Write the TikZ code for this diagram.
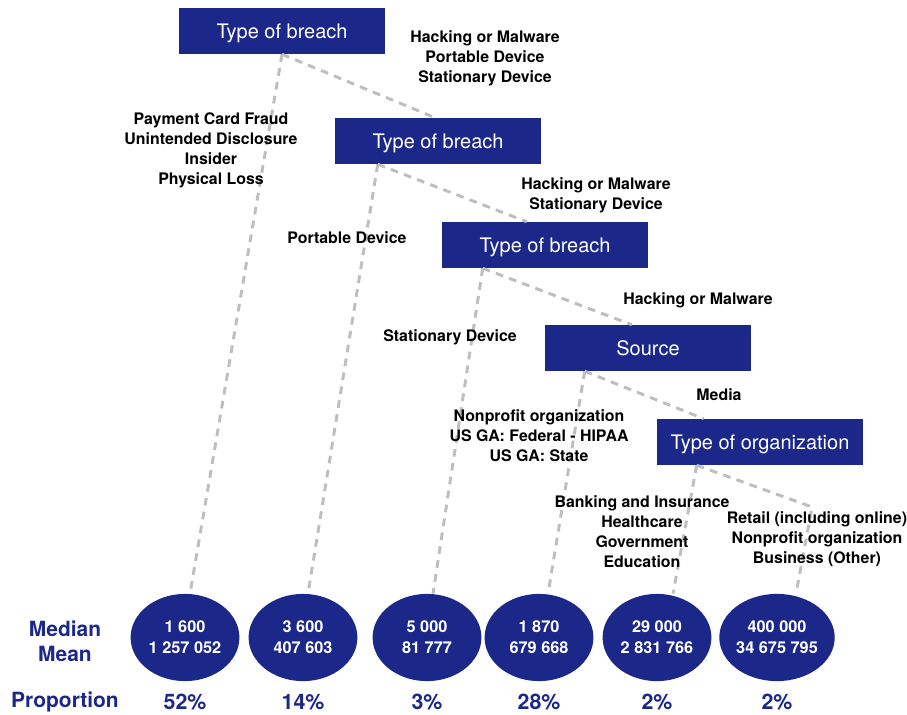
\documentclass[tikz,border=0pt]{standalone}
\usepackage{fontspec}
\setmainfont{TeX Gyre Heros}
\usetikzlibrary{shapes.geometric}
\definecolor{treeblue}{RGB}{27,40,137}
\definecolor{linkgray}{RGB}{190,190,190}

\begin{document}
\begin{tikzpicture}[x=0.025cm, y=-0.025cm,
    split/.style={fill=treeblue, text=white, minimum width=5.15cm, minimum height=1.15cm, inner sep=0pt, text depth=0pt, font=\fontsize{14.2}{16}\selectfont},
    leaf/.style={ellipse, fill=treeblue, text=white, minimum width=2.72cm, minimum height=2.18cm, inner sep=0pt, align=center, font=\bfseries\fontsize{11.6}{14.9}\selectfont},
    branch/.style={draw=linkgray, line width=2.1pt, dash pattern=on 5.5pt off 4.5pt},
    cond/.style={align=center, yshift=-0.05cm, font=\bfseries\fontsize{11.3}{14.2}\selectfont},
    rowlabel/.style={text=treeblue, align=center, font=\bfseries\fontsize{14.9}{17.8}\selectfont},
    share/.style={text=treeblue, font=\bfseries\fontsize{15.2}{17}\selectfont}]
    \useasboundingbox (0,0) rectangle (907,715);

    % Split nodes
    \node[split] (b1) at (282,31) {Type of breach};
    \node[split] (b2) at (438,141) {Type of breach};
    \node[split] (b3) at (545,245) {Type of breach};
    \node[split] (b4) at (648,348) {Source};
    \node[split] (b5) at (760,442) {Type of organization};

    % Leaves
    \node[leaf] (e1) at (185,637.5) {1 600\\1 257 052};
    \node[leaf] (e2) at (303,637.5) {3 600\\407 603};
    \node[leaf] (e3) at (427,637.5) {5 000\\81 777};
    \node[leaf] (e4) at (539,637.5) {1 870\\679 668};
    \node[leaf] (e5) at (657,637.5) {29 000\\2 831 766};
    \node[leaf] (e6) at (777,637.5) {400 000\\34 675 795};

    % Branch points
    \coordinate (s1) at (b1.south);
    \coordinate (s2) at ([xshift=1.075cm]b2.south west);
    \coordinate (s3) at ([xshift=1.025cm]b3.south west);
    \coordinate (s4) at ([xshift=1cm]b4.south west);
    \coordinate (s5) at ([xshift=1cm]b5.south west);
    \coordinate (k5) at (812,507);

    % Branches
    \draw[branch] (s1) -- ([xshift=-0.075cm]b2.north);
    \draw[branch] (s1) -- ([xshift=0.125cm]e1.north);
    \draw[branch] (s2) -- ([xshift=2.125cm]b3.north west);
    \draw[branch] (s2) -- ([xshift=0.125cm]e2.north);
    \draw[branch] (s3) -- ([xshift=2.175cm]b4.north west);
    \draw[branch] (s3) -- ([xshift=0.15cm]e3.north);
    \draw[branch] (s4) -- ([xshift=1.175cm]b5.north west);
    \draw[branch] (s4) -- ([xshift=0.225cm]e4.north);
    \draw[branch] (s5) -- ([xshift=0.4cm]e5.north);
    \draw[branch] (s5) -- (k5) -- ([xshift=0.475cm]e6.north);

    % Conditions
    \node[cond] (c1) at (485,56) {Hacking or Malware\\Portable Device\\Stationary Device};
    \node[cond] (c2) at (211,148) {Payment Card Fraud\\Unintended Disclosure\\Insider\\Physical Loss};
    \node[cond] (c3) at (596,193) {Hacking or Malware\\Stationary Device};
    \node[cond] (c4) at (347,236) {Portable Device};
    \node[cond] (c5) at (698,298) {Hacking or Malware};
    \node[cond] (c6) at (450,335) {Stationary Device};
    \node[cond] (c7) at (719,393) {Media};
    \node[cond] (c8) at (539,434) {Nonprofit organization\\US GA: Federal - HIPAA\\US GA: State};
    \node[cond] (c9) at (642,530) {Banking and Insurance\\Healthcare\\Government\\Education};
    \node[cond] (c10) at (817,537) {Retail (including online)\\Nonprofit organization\\Business (Other)};

    % Row labels
    \node[rowlabel] (stats) at (65,641.5) {Median\\Mean};
    \node[rowlabel] (prop) at (65,702) {Proportion};
    \node[share] (p1) at (185,702) {52\%};
    \node[share] (p2) at (303,702) {14\%};
    \node[share] (p3) at (427,702) {3\%};
    \node[share] (p4) at (539,702) {28\%};
    \node[share] (p5) at (657,702) {2\%};
    \node[share] (p6) at (777,702) {2\%};
\end{tikzpicture}
\end{document}
